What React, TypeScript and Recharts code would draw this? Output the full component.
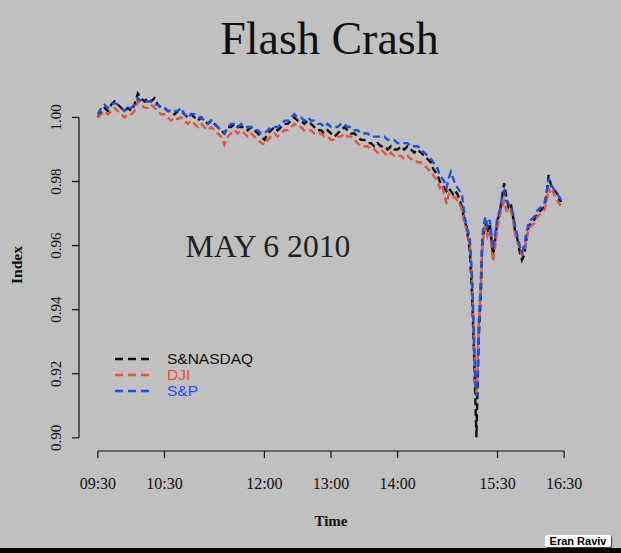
import React from "react";
import {
  LineChart,
  Line,
  XAxis,
  YAxis,
  Legend,
  ReferenceLine,
} from "recharts";

// minutes after 09:30 (on the chart's own time labels)
const times = [
  0, 3, 6, 9, 12, 15, 18, 21, 24, 27,
  30, 33, 36, 39, 42, 45, 48, 51, 54, 57,
  60, 63, 66, 69, 72, 75, 78, 81, 84, 87,
  90, 93, 96, 99, 102, 105, 108, 111, 114, 117,
  120, 123, 126, 129, 132, 135, 138, 141, 144, 147,
  150, 153, 156, 159, 162, 165, 168, 171, 174, 177,
  180, 183, 186, 189, 192, 195, 198, 201, 204, 207,
  210, 213, 216, 219, 222, 225, 228, 231, 234, 237,
  240, 243, 246, 249, 252, 255, 258, 261, 264, 267,
  270, 273, 276, 279, 282, 285, 288, 291, 294, 297,
  300, 302, 304, 306, 308, 310, 312, 314, 316, 318,
  320, 322, 324, 326, 328, 330, 332, 334, 335, 336,
  337, 338, 339, 340, 341, 342, 343, 344, 345, 346,
  347, 349, 351, 353, 355, 356, 358, 360, 362, 364,
  366, 368, 370, 372, 374, 376, 378, 380, 382, 384,
  386, 388, 390, 393, 396, 399, 402, 404, 406, 408,
  410, 412, 414, 416, 418,
];

const nasdaq = [
  1.0, 1.002, 1.003, 1.002, 1.004, 1.005, 1.004, 1.003, 1.002, 1.003,
  1.002, 1.004, 1.0075, 1.006, 1.005, 1.006, 1.005, 1.006, 1.004, 1.003,
  1.003, 1.002, 1.002, 1.001, 1.002, 1.002, 1.001, 1.0, 1.001, 1.0,
  0.999, 1.0, 0.999, 0.998, 0.999, 0.998, 0.997, 0.996, 0.995, 0.997,
  0.997, 0.998, 0.997, 0.997, 0.997, 0.996, 0.997, 0.996, 0.995, 0.994,
  0.993, 0.995, 0.996, 0.997, 0.996, 0.997, 0.998, 0.998, 0.999, 1.0,
  0.999, 0.999, 0.998, 0.999, 0.998, 0.997, 0.996, 0.996, 0.995, 0.996,
  0.995, 0.994, 0.995, 0.996, 0.997, 0.996, 0.995, 0.995, 0.994, 0.993,
  0.993, 0.992, 0.992, 0.991, 0.992, 0.991, 0.991, 0.99, 0.991, 0.99,
  0.99, 0.991, 0.99, 0.991, 0.99, 0.989, 0.99, 0.989, 0.988, 0.987,
  0.986, 0.984, 0.983, 0.982, 0.98, 0.979, 0.978, 0.977, 0.978, 0.977,
  0.976, 0.977, 0.976, 0.974, 0.972, 0.968, 0.966, 0.961, 0.958, 0.952,
  0.945, 0.935, 0.925, 0.912, 0.9002, 0.915, 0.93, 0.938, 0.945, 0.958,
  0.963, 0.967, 0.964, 0.967, 0.96, 0.957, 0.962, 0.968, 0.97, 0.975,
  0.9795, 0.975, 0.972, 0.973, 0.969, 0.964, 0.962, 0.958, 0.9555, 0.957,
  0.962, 0.966, 0.967, 0.968, 0.97, 0.971, 0.972, 0.975, 0.982, 0.979,
  0.977, 0.977, 0.976, 0.974, 0.974,
];

const dji = [
  1.0, 1.001, 1.002, 1.001, 1.002, 1.003, 1.002, 1.001, 1.0, 1.001,
  1.001, 1.002, 1.005, 1.004, 1.003, 1.003, 1.004, 1.003, 1.002, 1.001,
  1.001, 1.0, 0.999, 1.0, 0.9995, 1.0, 0.999, 0.998, 0.999, 0.998,
  0.997, 0.998, 0.997, 0.996, 0.997, 0.996, 0.995, 0.994, 0.9915, 0.994,
  0.995, 0.996, 0.995, 0.996, 0.995, 0.994, 0.995, 0.994, 0.993, 0.992,
  0.9915, 0.993, 0.994, 0.995, 0.994, 0.995, 0.996, 0.996, 0.997, 0.998,
  0.997, 0.997, 0.996, 0.996, 0.996, 0.995, 0.995, 0.995, 0.994, 0.994,
  0.993, 0.993, 0.994, 0.994, 0.995, 0.994, 0.994, 0.993, 0.992, 0.991,
  0.991, 0.991, 0.99, 0.99, 0.989, 0.99, 0.989, 0.988, 0.989, 0.988,
  0.988, 0.988, 0.987, 0.988, 0.987, 0.987, 0.986, 0.986, 0.985, 0.984,
  0.983, 0.982, 0.981, 0.98, 0.978, 0.979, 0.976, 0.973, 0.976, 0.975,
  0.975, 0.975, 0.974, 0.973, 0.971, 0.967, 0.965, 0.962, 0.96, 0.955,
  0.95, 0.94, 0.93, 0.917, 0.914, 0.92, 0.935, 0.94, 0.947, 0.957,
  0.962, 0.966, 0.963, 0.965, 0.958, 0.955, 0.96, 0.966, 0.969, 0.972,
  0.974, 0.971, 0.97, 0.971, 0.968, 0.963, 0.961, 0.959, 0.957, 0.958,
  0.962, 0.965, 0.966, 0.967, 0.969, 0.97, 0.971, 0.973, 0.978, 0.976,
  0.977, 0.975, 0.974, 0.973, 0.972,
];

const sp = [
  1.001, 1.003, 1.004, 1.003, 1.004, 1.0045, 1.004, 1.003, 1.002, 1.003,
  1.003, 1.004, 1.006, 1.005, 1.005, 1.005, 1.005, 1.004, 1.004, 1.003,
  1.003, 1.002, 1.002, 1.002, 1.002, 1.003, 1.001, 1.0, 1.001, 1.001,
  1.0, 1.0, 0.999, 0.998, 0.999, 0.998, 0.997, 0.996, 0.995, 0.997,
  0.998, 0.998, 0.997, 0.998, 0.997, 0.997, 0.997, 0.996, 0.996, 0.995,
  0.995, 0.996, 0.997, 0.997, 0.997, 0.998, 0.999, 0.999, 1.0, 1.001,
  1.0, 1.0, 0.999, 1.0, 0.999, 0.999, 0.998, 0.998, 0.997, 0.998,
  0.997, 0.997, 0.997, 0.998, 0.998, 0.997, 0.997, 0.996, 0.996, 0.995,
  0.995, 0.995, 0.994, 0.994, 0.994, 0.994, 0.994, 0.993, 0.993, 0.993,
  0.992, 0.992, 0.992, 0.992, 0.991, 0.991, 0.991, 0.99, 0.989, 0.988,
  0.987, 0.986, 0.985, 0.984, 0.982, 0.981, 0.98, 0.978, 0.981, 0.983,
  0.981, 0.979, 0.978, 0.977, 0.976, 0.97, 0.966, 0.964, 0.962, 0.957,
  0.95, 0.94, 0.928, 0.917, 0.913, 0.92, 0.935, 0.942, 0.95, 0.96,
  0.965, 0.969, 0.966, 0.968, 0.962, 0.959, 0.964, 0.969, 0.971, 0.975,
  0.977, 0.974, 0.973, 0.972, 0.97, 0.966, 0.963, 0.96, 0.958, 0.96,
  0.964, 0.967, 0.968, 0.969, 0.971, 0.972, 0.973, 0.976, 0.981, 0.979,
  0.978, 0.977, 0.976, 0.975, 0.974,
];

const tickTimes = [0, 60, 150, 210, 270, 360, 420];
const tickLabels = ["09:30", "10:30", "12:00", "13:00", "14:00", "15:30", "16:30"];
const yTicks = [0.9, 0.92, 0.94, 0.96, 0.98, 1.0];

const series = [
  { key: "nasdaq", name: "S&NASDAQ", color: "#111111" },
  { key: "dji", name: "DJI", color: "#e4533f" },
  { key: "sp", name: "S&P", color: "#1f50e6" },
];

const rows = times.map((t, i) => ({
  t,
  nasdaq: nasdaq[i],
  dji: dji[i],
  sp: sp[i],
}));

const SERIF = "'Liberation Serif', 'Times New Roman', serif";
const SANS = "'Liberation Sans', Arial, sans-serif";
const Y_MIN = 0.8959;
const X_MIN = -17;

function XTick({ x, y, payload }: any) {
  const idx = tickTimes.indexOf(payload.value);
  return (
    <text x={x} y={y + 29} textAnchor="middle" fontFamily={SERIF} fontSize={16} fill="#111">
      {tickLabels[idx]}
    </text>
  );
}

function YTick({ x, y, payload }: any) {
  const bx = x - 9;
  return (
    <text
      x={bx}
      y={y}
      transform={`rotate(-90 ${bx} ${y})`}
      textAnchor="middle"
      fontFamily={SERIF}
      fontSize={15}
      fill="#111"
    >
      {payload.value.toFixed(2)}
    </text>
  );
}

function LegendBox() {
  return (
    <div style={{ fontFamily: SANS, fontSize: 15.5 }}>
      {series.map((s) => (
        <div key={s.key} style={{ display: "flex", alignItems: "center", height: 16 }}>
          <svg width={52} height={16}>
            <line x1={0} y1={8} x2={36} y2={8} stroke={s.color} strokeWidth={2.4} strokeDasharray="8 5" />
          </svg>
          <span style={{ color: s.color, lineHeight: "16px" }}>{s.name}</span>
        </div>
      ))}
    </div>
  );
}

export default function App() {
  return (
    <div
      style={{
        position: "absolute",
        left: 0,
        top: 0,
        width: 621,
        height: 553,
        background: "#c0c0c0",
        overflow: "hidden",
      }}
    >
      <div
        style={{
          position: "absolute",
          left: 0,
          width: 621,
          top: 16,
          textAlign: "center",
          fontFamily: SERIF,
          fontSize: 46,
          lineHeight: "46px",
          color: "#111",
          paddingLeft: 38,
          boxSizing: "border-box",
        }}
      >
        Flash Crash
      </div>
      <LineChart
        width={621}
        height={553}
        data={rows}
        margin={{ top: 79, right: 38, bottom: 62, left: 39 }}
      >
        <XAxis
          dataKey="t"
          type="number"
          domain={[X_MIN, 437]}
          ticks={tickTimes}
          interval={0}
          axisLine={false}
          tickSize={7}
          tickLine={{ stroke: "#111", strokeWidth: 1.2 }}
          tick={<XTick />}
          height={40}
          label={{
            value: "Time",
            content: ({ viewBox }: any) => (
              <text
                x={viewBox.x + viewBox.width / 2}
                y={viewBox.y + 75}
                textAnchor="middle"
                fontFamily={SERIF}
                fontWeight="bold"
                fontSize={15}
                fill="#111"
              >
                Time
              </text>
            ),
          }}
        />
        <YAxis
          type="number"
          domain={[Y_MIN, 1.012]}
          ticks={yTicks}
          interval={0}
          axisLine={false}
          tickSize={7}
          tickLine={{ stroke: "#111", strokeWidth: 1.2 }}
          tick={<YTick />}
          width={40}
          label={{
            value: "Index",
            content: ({ viewBox }: any) => {
              const cx = 22;
              const cy = viewBox.y + viewBox.height / 2;
              return (
                <text
                  x={cx}
                  y={cy}
                  transform={`rotate(-90 ${cx} ${cy})`}
                  textAnchor="middle"
                  fontFamily={SERIF}
                  fontWeight="bold"
                  fontSize={15.5}
                  fill="#111"
                >
                  Index
                </text>
              );
            },
          }}
        />
        <ReferenceLine
          segment={[
            { x: 0, y: Y_MIN },
            { x: 420, y: Y_MIN },
          ]}
          stroke="#111"
          strokeWidth={1.2}
          ifOverflow="visible"
        />
        <ReferenceLine
          segment={[
            { x: X_MIN, y: 0.9 },
            { x: X_MIN, y: 1.0 },
          ]}
          stroke="#111"
          strokeWidth={1.2}
          ifOverflow="visible"
        />
        {series.map((s) => (
          <Line
            key={s.key}
            dataKey={s.key}
            name={s.name}
            type="linear"
            stroke={s.color}
            strokeWidth={2.4}
            strokeDasharray="7 4"
            dot={false}
            activeDot={false}
            isAnimationActive={false}
          />
        ))}
        <Legend
          layout="vertical"
          align="center"
          verticalAlign="middle"
          wrapperStyle={{ left: 115, top: 351, width: 160 }}
          content={<LegendBox />}
        />
      </LineChart>
      <div
        style={{
          position: "absolute",
          left: 168,
          width: 200,
          top: 231,
          textAlign: "center",
          fontFamily: SERIF,
          fontSize: 31.7,
          lineHeight: "32px",
          color: "#222",
        }}
      >
        MAY 6 2010
      </div>
      <div
        style={{
          position: "absolute",
          left: 545,
          top: 535,
          width: 66,
          height: 12,
          background: "#fff",
          borderRadius: 2,
          boxShadow: "1px 1px 1px #333",
          fontFamily: SANS,
          fontWeight: "bold",
          fontSize: 11,
          lineHeight: "12px",
          textAlign: "center",
          color: "#000",
        }}
      >
        Eran Raviv
      </div>
      <div
        style={{
          position: "absolute",
          left: 0,
          top: 548,
          width: 621,
          height: 5,
          background: "#000",
        }}
      />
    </div>
  );
}
